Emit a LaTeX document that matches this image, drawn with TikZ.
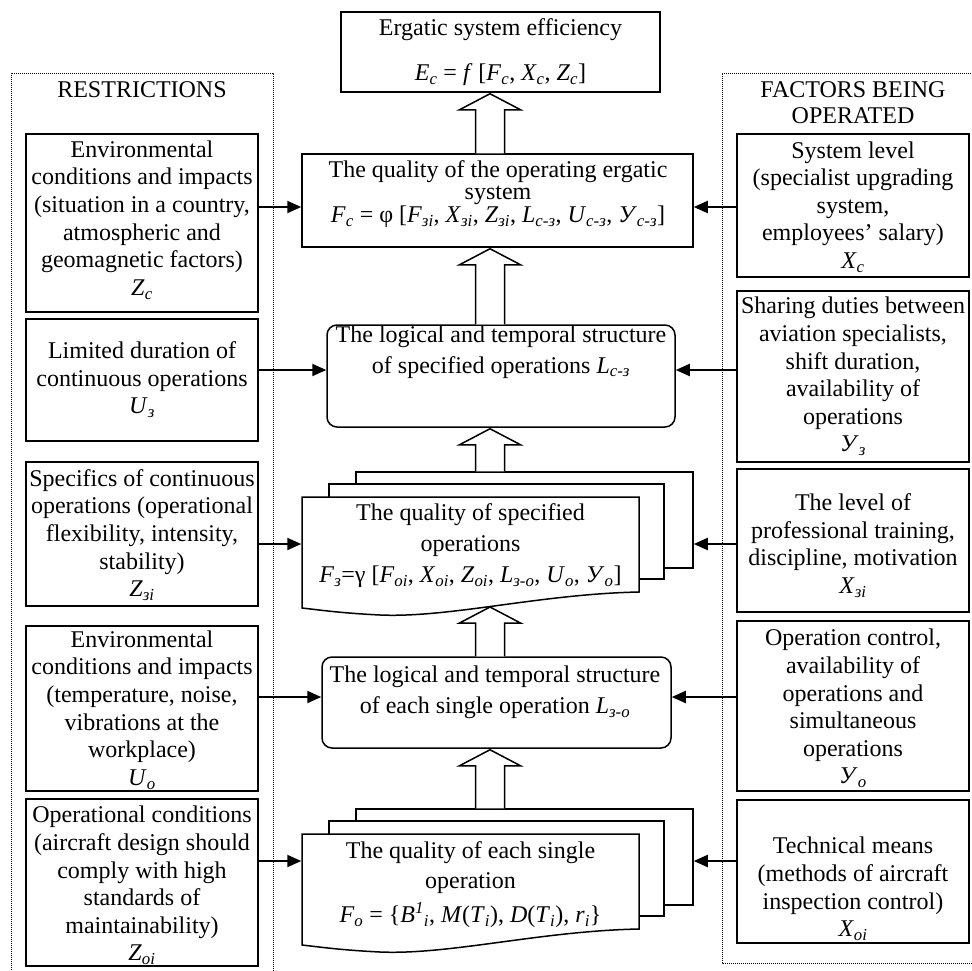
\documentclass[tikz,border=0pt]{standalone}
\usepackage{fontspec}
\setmainfont{Liberation Serif}
\usetikzlibrary{arrows.meta,calc}
\newcommand\iv[2]{\textit{#1}\textsubscript{\textit{#2}}}
\newcommand\fs[1]{\fontsize{24}{#1}\selectfont\lineskiplimit=-50pt\relax}
% box from corners: [opts]{name}{x1}{y1}{x2}{y2}
\newcommand\bx[6][]{\node[box,#1,minimum width={(#5)-(#3)},minimum height={(#6)-(#4)}] (#2) at ({((#3)+(#5))/2},{((#4)+(#6))/2}) {};}
\newcommand\harr[2]{%
  \draw[harrow] ($(ax |- #2)+(-14.5,0)$) -- ($(ax |- #1)+(-14.5,17)$) -- ($(ax |- #1)+(-30.5,17)$) -- ($(ax |- #1)+(0,1)$) -- ($(ax |- #1)+(30.5,17)$) -- ($(ax |- #1)+(14.5,17)$) -- ($(ax |- #2)+(14.5,0)$);}
\newcommand\multidoc[2]{% name prefix, vertical offset
  \bx{#1back}{356}{472+#2}{693}{568+#2}
  \bx{#1mid}{329}{484+#2}{664}{579+#2}
  \node[inner sep=0,outer sep=0.75pt,minimum width=337,minimum height=95] (#1) at (470.5,{544.5+#2}) {};
  \draw[line width=1.5pt,fill=white,line join=miter] (302,{497+#2}) -- (639,{497+#2}) -- (639,{592+#2})
    .. controls (540,{594+#2}) and (450,{618+#2}) .. (380,{615+#2})
    .. controls (340,{613+#2}) and (320,{610+#2}) .. (302,{608+#2}) -- cycle;}
\begin{document}
\begin{tikzpicture}[x=1pt,y=-1pt,
  box/.style={draw,line width=1.5pt,fill=white,inner sep=0pt,outer sep=0.75pt},
  txt/.style={inner sep=0pt,align=center,font=\fs{27.6}},
  frame/.style={line width=0.9pt,dash pattern=on 1pt off 1pt},
  harrow/.style={draw,line width=1.5pt,fill=white,line join=miter},
  farrow/.style={line width=2pt,-{Triangle[length=14pt,width=12pt]}}]
\useasboundingbox (0,0) rectangle (972,970);
\fill[white] (0,0) rectangle (972,970);
% dotted frames
\draw[frame] (11,972) -- (11,73) -- (273,73) -- (273,972);
\draw[frame] (975,73) -- (722,73) -- (722,963) -- (975,963);
\node[txt,anchor=base] (hR) at (142,97) {RESTRICTIONS};
\node[txt,font=\fs{26}] (hF) at (853,102.5) {FACTORS BEING\\OPERATED};
% left boxes
\bx{Zc}{26}{134}{258}{312}
\bx{U3}{26}{319}{258}{441}
\bx{Z3i}{26}{462}{258}{606}
\bx{Uo}{26}{626}{258}{791}
\bx{Zoi}{26}{799}{258}{966}
% right boxes
\bx{Xc}{737}{134}{969}{277}
\bx{Y3}{737}{291}{969}{462}
\bx{X3i}{737}{469}{969}{612}
\bx{Yo}{737}{621}{969}{791}
\bx{Xoi}{737}{800}{969}{943}
% centre column
\coordinate (ax) at (490,0);
\coordinate (F3b) at (490,606);
\bx{Ec}{341}{12}{660}{92}
\bx{Q}{302}{154}{693}{247}
\bx[rounded corners=10pt]{Lc}{327}{325}{675}{427}
\bx[rounded corners=10pt]{Lo}{322}{657}{671}{748}
\multidoc{F3}{0}
\multidoc{Fo}{337}
% hollow arrows
\harr{Ec.south}{Q.north}
\harr{Q.south}{Lc.north}
\harr{Lc.south}{F3back.north}
\harr{F3b}{Lo.north}
\harr{Lo.south}{Foback.north}
% texts
\node[txt] (tZc) at (142,220) {Environmental\\conditions and impacts\\(situation in a country,\\atmospheric and\\geomagnetic factors)\\\iv{Z}{c}};
\node[txt] (tU3) at (142,379.5) {Limited duration of\\continuous operations\\\iv{U}{з}};
\node[txt] (tZ3i) at (142,535) {Specifics of continuous\\operations (operational\\flexibility, intensity,\\stability)\\\iv{Z}{зi}};
\node[txt] (tUo) at (142,710) {Environmental\\conditions and impacts\\(temperature, noise,\\vibrations at the\\workplace)\\\iv{U}{o}};
\node[txt] (tZoi) at (142,885.5) {Operational conditions\\(aircraft design should\\comply with high\\standards of\\maintainability)\\\iv{Z}{oi}};
\node[txt] (tXc) at (853,207) {System level\\(specialist upgrading\\system,\\employees’ salary)\\\iv{X}{c}};
\node[txt] (tY3) at (853,376.5) {Sharing duties between\\aviation specialists,\\shift duration,\\availability of\\operations\\\iv{У}{з}};
\node[txt] (tX3i) at (853,545.5) {The level of\\professional training,\\discipline, motivation\\\iv{X}{зi}};
\node[txt] (tYo) at (853,708.5) {Operation control,\\availability of\\operations and\\simultaneous\\operations\\\iv{У}{o}};
\node[txt] (tXoi) at (853,889) {Technical means\\(methods of aircraft\\inspection control)\\\iv{X}{oi}};
\node[txt,font=\fs{45}] (tEc) at (500.5,52) {Ergatic system efficiency\\\iv{E}{c} = \textit{f} [\iv{F}{c}, \iv{X}{c}, \iv{Z}{c}]};
\node[txt,font=\fs{22.5}] (tQ) at (498,194) {The quality of the operating ergatic\\system\\\iv{F}{c} = φ [\iv{F}{зi}, \iv{X}{зi}, \iv{Z}{зi}, \iv{L}{c-з}, \iv{U}{c-з}, \iv{У}{c-з}]};
\node[txt,font=\fs{30.5}] (tLc) at (501,352) {The logical and temporal structure\\of specified operations \iv{L}{c-з}};
\node[txt,font=\fs{30.5}] (tLo) at (495,692.5) {The logical and temporal structure\\of each single operation \iv{L}{з-o}};
\node[txt,font=\fs{31}] (tF3) at (470.5,545.5) {The quality of specified\\operations\\\iv{F}{з}=γ [\iv{F}{oi}, \iv{X}{oi}, \iv{Z}{oi}, \iv{L}{з-o}, \iv{U}{o}, \iv{У}{o}]};
\node[txt,font=\fs{30}] (tFo) at (470.5,884.5) {The quality of each single\\operation\\[4pt]\iv{F}{o} = \{\textit{B}\textsuperscript{\textit{1}}\textsubscript{\textit{i}}, \textit{M}(\iv{T}{i}), \textit{D}(\iv{T}{i}), \iv{r}{i}\}};
% connectors
\coordinate (ya) at (0,207);
\coordinate (yb) at (0,370);
\coordinate (yc) at (0,544);
\coordinate (yd) at (0,697);
\coordinate (ye) at (0,861);
\draw[farrow] (Zc.east |- ya) -- (Q.west |- ya);
\draw[farrow] (Xc.west |- ya) -- (Q.east |- ya);
\draw[farrow] (U3.east |- yb) -- (Lc.west |- yb);
\draw[farrow] (Y3.west |- yb) -- (Lc.east |- yb);
\draw[farrow] (Z3i.east |- yc) -- (F3.west |- yc);
\draw[farrow] (X3i.west |- yc) -- (F3back.east |- yc);
\draw[farrow] (Uo.east |- yd) -- (Lo.west |- yd);
\draw[farrow] (Yo.west |- yd) -- (Lo.east |- yd);
\draw[farrow] (Zoi.east |- ye) -- (Fo.west |- ye);
\draw[farrow] (Xoi.west |- ye) -- (Foback.east |- ye);
\end{tikzpicture}
\end{document}
